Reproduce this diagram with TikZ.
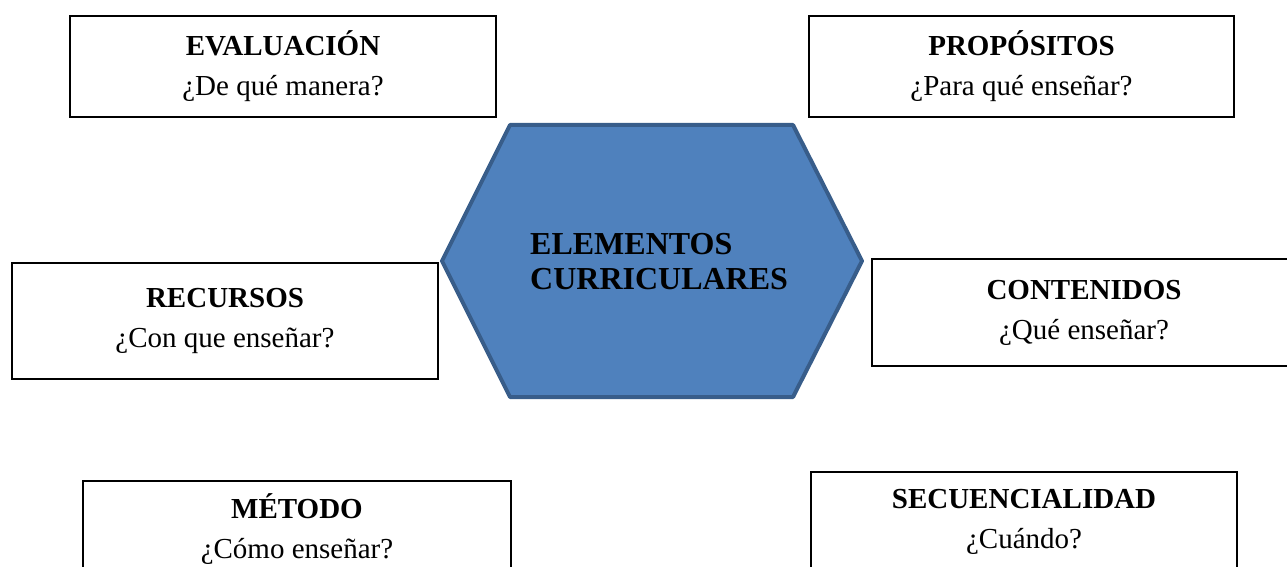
\documentclass[tikz,border=0pt]{standalone}
\usepackage{fontspec}
\setmainfont{Liberation Serif}
\definecolor{hexfill}{HTML}{4F81BD}
\definecolor{hexline}{HTML}{385D8A}
\begin{document}
\begin{tikzpicture}[x=1pt,y=-1pt,
  box/.style={draw=black, line width=2pt, rectangle, align=center, inner sep=2pt,
    font=\fontsize{29}{40}\selectfont},
  hexlabel/.style={align=left, inner sep=0pt, font=\fontsize{32}{35}\selectfont\bfseries}]
\useasboundingbox (0,0) rectangle (1287,567);
\clip (0,0) rectangle (1287,567);
% hexagon
\coordinate (hl) at (442,261);
\coordinate (htl) at (510,125);
\coordinate (htr) at (793,125);
\coordinate (hr) at (862,261);
\coordinate (hbr) at (793,397);
\coordinate (hbl) at (510,397);
\draw[fill=hexfill, draw=hexline, line width=4pt, line join=round]
  (hl) -- (htl) -- (htr) -- (hr) -- (hbr) -- (hbl) -- cycle;
\node[hexlabel, anchor=west] (hex) at (530,262) {ELEMENTOS\\CURRICULARES};
% boxes
\node[box, minimum width=426pt, minimum height=101pt] (eval) at (283,66.5)
  {\textbf{EVALUACIÓN}\\¿De qué manera?};
\node[box, minimum width=425pt, minimum height=101pt] (prop) at (1021.5,66.5)
  {\textbf{PROPÓSITOS}\\¿Para qué enseñar?};
\node[box, minimum width=426pt, minimum height=116pt] (recu) at (225,321)
  {\textbf{RECURSOS}\\¿Con que enseñar?};
\node[box, minimum width=424pt, minimum height=107pt] (cont) at (1084,312.5)
  {\textbf{CONTENIDOS}\\¿Qué enseñar?};
\node[box, minimum width=428pt, minimum height=96pt] (meto) at (297,529)
  {\textbf{MÉTODO}\\¿Cómo enseñar?};
\node[box, minimum width=426pt, minimum height=99pt] (secu) at (1024,521.5)
  {\textbf{SECUENCIALIDAD}\\¿Cuándo?};
\end{tikzpicture}
\end{document}
